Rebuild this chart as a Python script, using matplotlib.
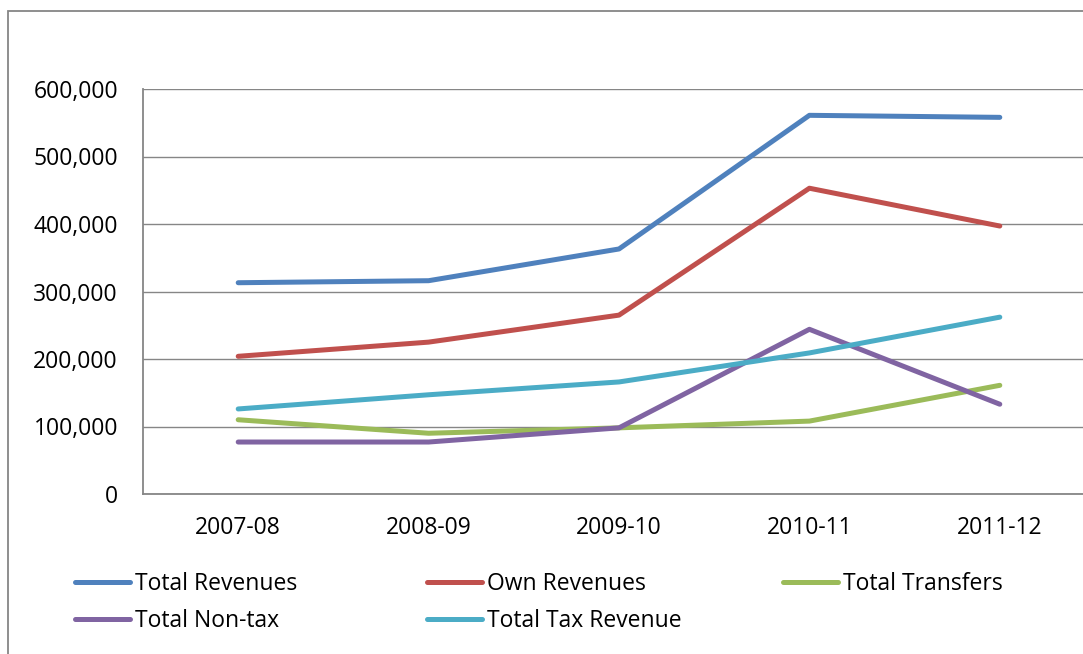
import numpy as np
import matplotlib
matplotlib.use('Agg')
import matplotlib.pyplot as plt
from matplotlib.patches import Rectangle
from matplotlib.ticker import FuncFormatter

plt.rcParams['font.family'] = ['Open Sans', 'DejaVu Sans']

# 데이터
years = ['2007-08', '2008-09', '2009-10', '2010-11', '2011-12']
total_revenues = [313000, 316000, 363000, 561000, 558000]
own_revenues = [204000, 225000, 265000, 453000, 397000]
total_transfers = [110000, 90000, 98000, 108000, 161000]
total_non_tax = [77000, 77000, 98000, 244000, 133000]
total_tax_revenue = [126000, 147000, 166000, 209000, 262000]

series = [
    ('Total Revenues', total_revenues, '#4F81BD'),
    ('Own Revenues', own_revenues, '#C0504D'),
    ('Total Transfers', total_transfers, '#9BBB59'),
    ('Total Non-tax', total_non_tax, '#8064A2'),
    ('Total Tax Revenue', total_tax_revenue, '#4BACC6'),
]

W, H = 1083, 654
fig = plt.figure(figsize=(W / 100, H / 100), dpi=100)

# 차트 바깥 테두리
fig.patches.append(Rectangle((8 / W, -0.2), 1.5, 1.2 - 11 / H,
                             transform=fig.transFigure, fill=False,
                             edgecolor='#868686', lw=1.3))

# 그래프 영역 (오른쪽은 그림 밖으로 잘림)
left, right, top, bottom = 143, 1095, 89, 494
ax = fig.add_axes([left / W, 1 - bottom / H, (right - left) / W, (bottom - top) / H])

x = np.arange(len(years))
lines = {}
for name, vals, color in series:
    lines[name], = ax.plot(x, vals, color=color, lw=3.6, solid_capstyle='round',
                           solid_joinstyle='round', label=name)

ax.set_xlim(-0.5, len(years) - 0.5)
ax.set_ylim(0, 600000)
ax.set_yticks(np.arange(0, 600001, 100000))
ax.yaxis.set_major_formatter(FuncFormatter(lambda v, p: f'{int(v):,}'))
ax.set_xticks(x)
ax.set_xticklabels(years)
ax.grid(axis='y', color='#868686', lw=1)
ax.set_axisbelow(True)
for s in ['top', 'right']:
    ax.spines[s].set_visible(False)
for s in ['left', 'bottom']:
    ax.spines[s].set_color('#868686')
    ax.spines[s].set_linewidth(1.3)
ax.tick_params(axis='both', length=0, labelsize=16.5, colors='black')
ax.tick_params(axis='y', pad=18)
ax.tick_params(axis='x', pad=16)

# 범례 - 엑셀처럼 3열, 열마다 따로 배치
columns = [(75, ['Total Revenues', 'Total Non-tax']),
           (427, ['Own Revenues', 'Total Tax Revenue']),
           (783, ['Total Transfers'])]
for xpos, names in columns:
    fig.legend([lines[n] for n in names], names, frameon=False,
               loc='upper left', bbox_to_anchor=(xpos / W, 1 - 572 / H),
               borderpad=0, borderaxespad=0,
               fontsize=16.5, handlelength=2.4, handletextpad=0.2,
               labelspacing=0.55)

plt.savefig('out.png', dpi=100)
